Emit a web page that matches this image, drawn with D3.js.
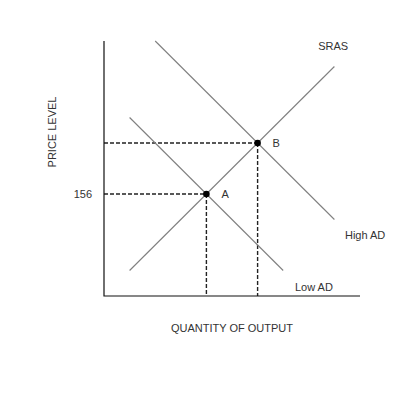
<!DOCTYPE html>
<html lang="en">
<head>
	<meta charset="UTF-8">
	<title>AD / SRAS</title>
	<style>
		html, body {width: 100%; height: 100%; padding: 0; margin: 0; background: #fff;}
		text {font-family: "Liberation Sans", Arial, sans-serif; font-size: 11px; fill: #333;}
		.curve {stroke: #808080; stroke-width: 1.1px; fill: none;}
		.guide {stroke: #222; stroke-width: 1.4px; stroke-dasharray: 4,2; fill: none;}
	</style>
	<script src="https://d3js.org/d3.v7.min.js"></script>
</head>
<body>
<script>
	// Curves, in chart units (quantity, price level)
	var sras = [[10, 10], [90, 90]];
	var highAD = [[20, 100], [90, 30]];
	var lowAD = [[10, 70], [70, 10]];
	// Equilibria
	var points = [
		{name: 'A', q: 40, p: 40, tick: '156'},
		{name: 'B', q: 60, p: 60, tick: ''}
	];
	var curveLabels = [
		{text: 'SRAS', q: 89.5, p: 98},
		{text: 'High AD', q: 102, p: 24},
		{text: 'Low AD', q: 82, p: 3.7}
	];

	var width = 400, height = 400;
	var x = d3.scaleLinear().domain([0, 100]).range([104, 360]);
	var y = d3.scaleLinear().domain([0, 100]).range([296, 41]);

	var svg = d3.select('body').append('svg')
		.attr('width', width)
		.attr('height', height);

	var line = d3.line()
		.x(function (d) { return x(d[0]); })
		.y(function (d) { return y(d[1]); });

	// dashed guides first so dots sit on top
	points.forEach(function (d) {
		svg.append('path').attr('class', 'guide')
			.attr('d', line([[0, d.p], [d.q, d.p]]));
		svg.append('path').attr('class', 'guide')
			.attr('d', line([[d.q, d.p], [d.q, 0]]));
	});

	[sras, highAD, lowAD].forEach(function (c) {
		svg.append('path').attr('class', 'curve').attr('d', line(c));
	});

	// axes
	svg.append('path')
		.attr('d', line([[0, 100], [0, 0], [100, 0]]))
		.attr('fill', 'none')
		.attr('stroke', '#111')
		.attr('stroke-width', 1.2);

	svg.selectAll('.dot')
		.data(points)
		.enter().append('circle')
		.attr('class', 'dot')
		.attr('cx', function (d) { return x(d.q); })
		.attr('cy', function (d) { return y(d.p); })
		.attr('r', 3.3)
		.attr('fill', '#000');

	svg.selectAll('.plabel')
		.data(points)
		.enter().append('text')
		.attr('x', function (d) { return x(d.q) + 15; })
		.attr('y', function (d) { return y(d.p) + 4; })
		.text(function (d) { return d.name; });

	svg.selectAll('.tick')
		.data(points)
		.enter().append('text')
		.attr('x', 92)
		.attr('y', function (d) { return y(d.p) + 4; })
		.attr('text-anchor', 'end')
		.text(function (d) { return d.tick; });

	svg.selectAll('.clabel')
		.data(curveLabels)
		.enter().append('text')
		.attr('x', function (d) { return x(d.q); })
		.attr('y', function (d) { return y(d.p) + 4; })
		.attr('text-anchor', 'middle')
		.text(function (d) { return d.text; });

	svg.append('text')
		.attr('x', 232)
		.attr('y', 331.5)
		.attr('text-anchor', 'middle')
		.text('QUANTITY OF OUTPUT');

	svg.append('text')
		.attr('transform', 'translate(56,132) rotate(-90)')
		.attr('text-anchor', 'middle')
		.text('PRICE LEVEL');
</script>
</body>
</html>
